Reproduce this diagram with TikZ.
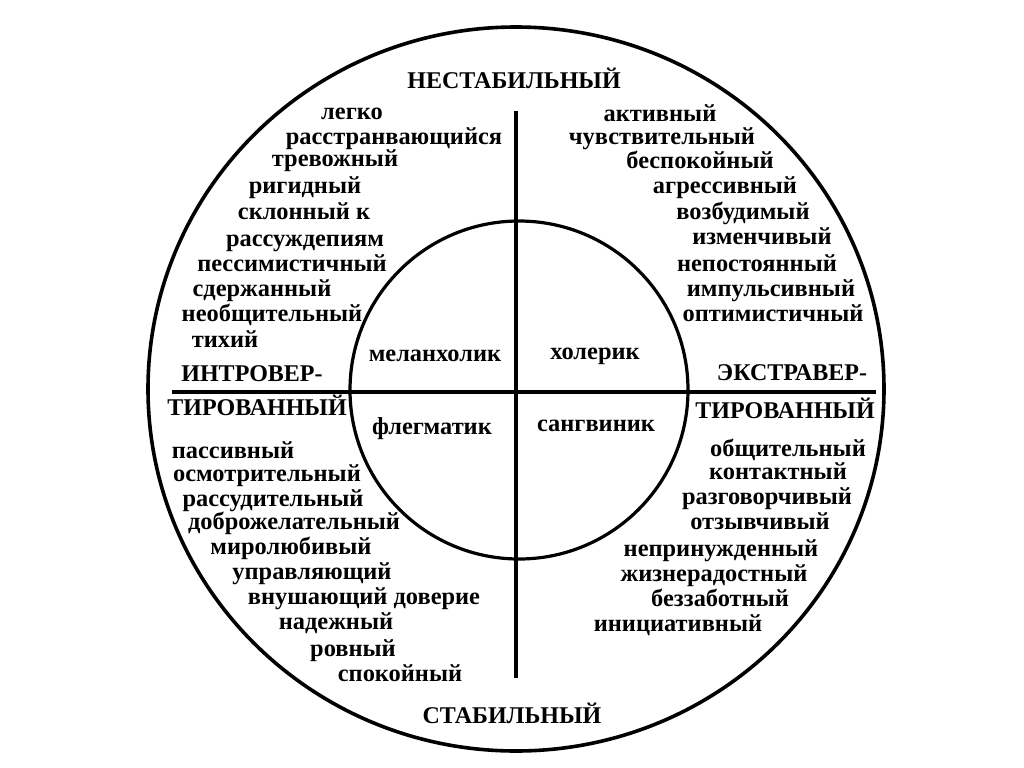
\documentclass[tikz,border=0pt]{standalone}
\usepackage{fontspec}
\setmainfont{Liberation Serif}
\usepackage{tikz}

\begin{document}
\begin{tikzpicture}[x=0.5pt,y=-0.5pt,
    trait/.style={font=\fontsize{12.2}{14}\selectfont\bfseries, anchor=base, inner sep=0pt},
    type/.style={trait},
    axis/.style={font=\fontsize{12}{14}\selectfont\bfseries, anchor=base, inner sep=0pt}]
    \useasboundingbox[fill=white] (0,0) rectangle (1024,767);
    % circles and axes
    \draw[line width=1.8pt] (516,389) ellipse [x radius=368, y radius=362];
    \draw[line width=1.6pt] (519,390) circle [radius=169];
    \coordinate (top) at (516,111);
    \coordinate (bot) at (516,678);
    \coordinate (west) at (172,392);
    \coordinate (east) at (876,392);
    \draw[line width=1.6pt] (top) -- (bot);
    \draw[line width=1.6pt] (west) -- (east);
    % axis labels
    \node[axis] (unstable) at (514,88) {НЕСТАБИЛЬНЫЙ};
    \node[axis] (stable) at (512,723) {СТАБИЛЬНЫЙ};
    \node[axis] (intro) at (252,381) {ИНТРОВЕР-};
    \node[axis] (introb) at (257,415) {ТИРОВАННЫЙ};
    \node[axis] (extro) at (792,380) {ЭКСТРАВЕР-};
    \node[axis] (extrob) at (785,418) {ТИРОВАННЫЙ};
    % temperaments
    \node[type] (melan) at (435,361) {меланхолик};
    \node[type] (choler) at (595,359) {холерик};
    \node[type] (phleg) at (432,434) {флегматик};
    \node[type] (sang) at (596,431) {сангвиник};
    % traits, upper left
    \foreach \x/\y/\t [count=\i] in {352/119/легко, 394/144/расстранвающийся,
        335/166/тревожный, 305/193/ригидный, 304/219/склонный к,
        305/246/рассуждепиям, 292/271/пессимистичный, 262/296/сдержанный,
        272/321/необщительный, 225/347/тихий}
      \node[trait] (ul\i) at (\x,\y) {\t};
    % traits, upper right
    \foreach \x/\y/\t [count=\i] in {660/121/активный, 662/144/чувствительный,
        700/168/беспокойный, 725/193/агрессивный, 743/219/возбудимый,
        762/244/изменчивый, 757/271/непостоянный, 771/296/импульсивный,
        773/321/оптимистичный}
      \node[trait] (ur\i) at (\x,\y) {\t};
    % traits, lower left
    \foreach \x/\y/\t [count=\i] in {233/458/пассивный, 267/481/осмотрительный,
        273/506/рассудительный, 294/529/доброжелательный, 291/554/миролюбивый,
        312/579/управляющий, 364/604/внушающий доверие, 336/629/надежный,
        353/656/ровный, 400/681/спокойный}
      \node[trait] (ll\i) at (\x,\y) {\t};
    % traits, lower right
    \foreach \x/\y/\t [count=\i] in {788/456/общительный, 778/479/контактный,
        767/504/разговорчивый, 760/529/отзывчивый, 721/556/непринужденный,
        714/581/жизнерадостный, 720/606/беззаботный, 678/631/инициативный}
      \node[trait] (lr\i) at (\x,\y) {\t};
\end{tikzpicture}
\end{document}
